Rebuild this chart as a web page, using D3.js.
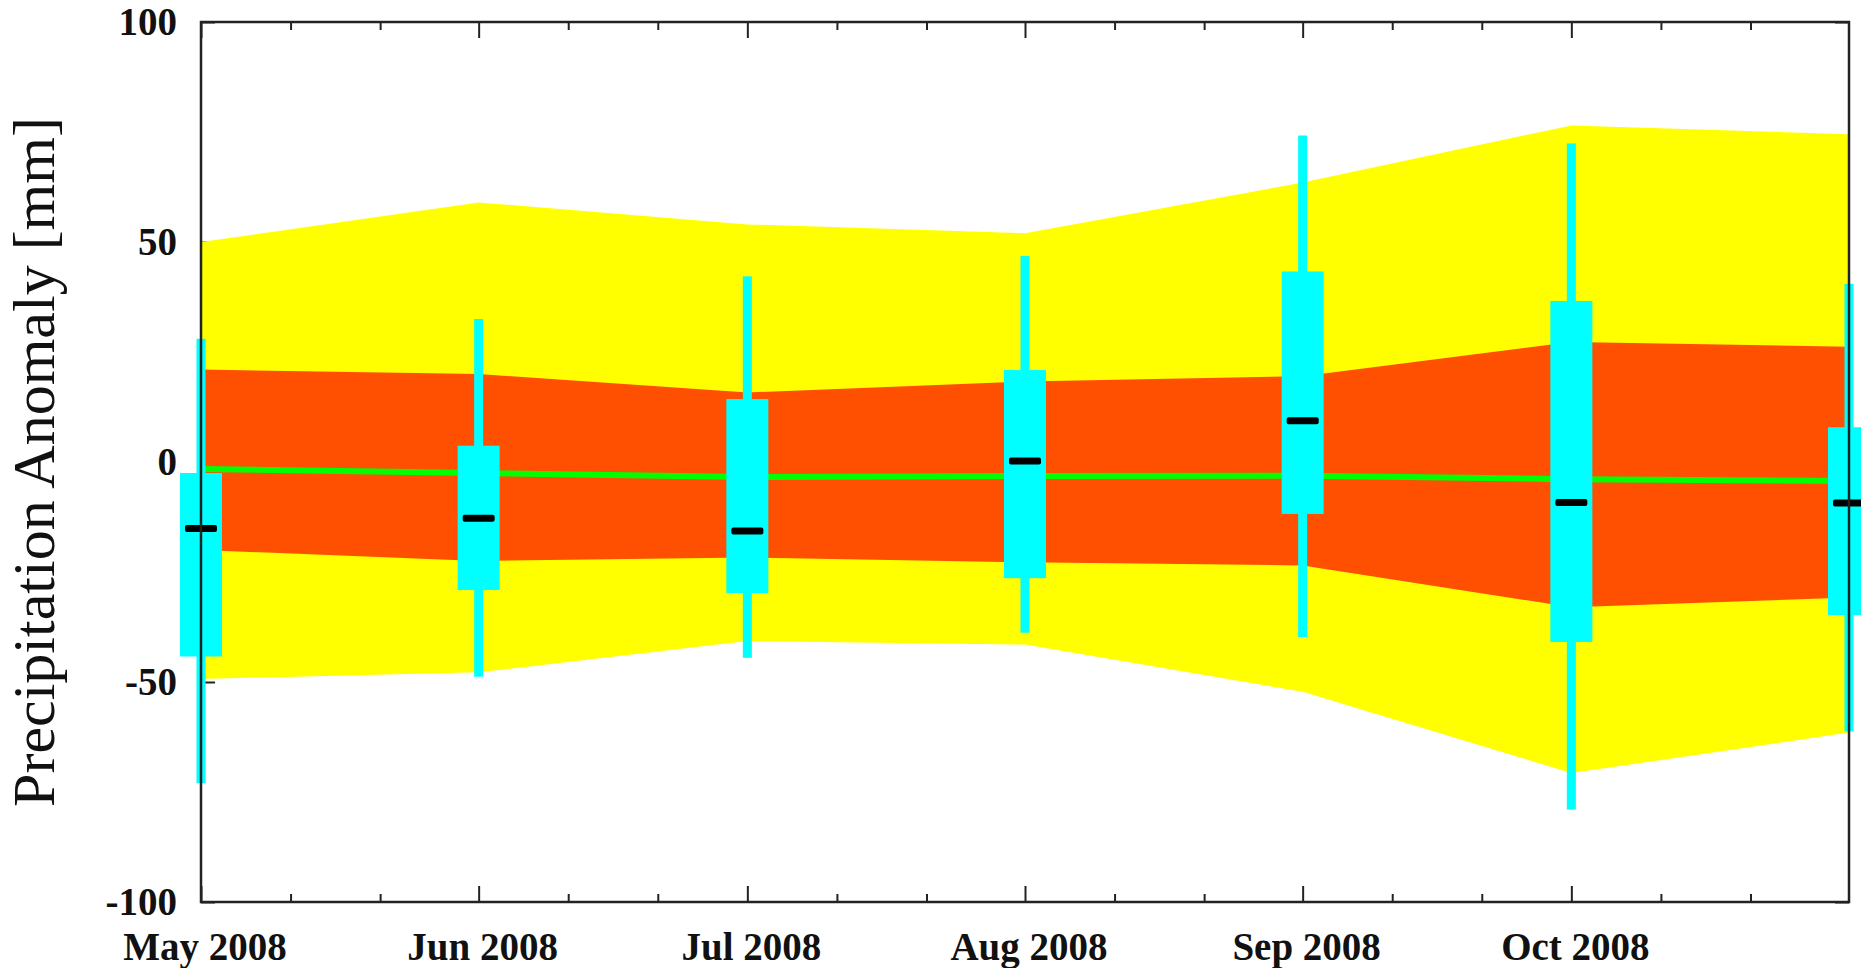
<!DOCTYPE html>
<html>
<head>
<meta charset="utf-8">
<script src="https://cdn.jsdelivr.net/npm/d3@7"></script>
<style>
  html, body { margin: 0; padding: 0; background: #fff; overflow: hidden; }
  svg { display: block; }
</style>
</head>
<body>
<svg id="chart" width="1861" height="968"></svg>
<script>
// ---- data ----
const dates = ["2008-05-01", "2008-06-01", "2008-07-01", "2008-08-01", "2008-09-01", "2008-10-01", "2008-11-01"];
const tickLabels = ["May 2008", "Jun 2008", "Jul 2008", "Aug 2008", "Sep 2008", "Oct 2008"];
const yTickValues = [-100, -50, 0, 50, 100];

const yellowUpper = [50, 59, 54, 52, 63.5, 76.5, 74.5];
const yellowLower = [-49.3, -47.8, -40.7, -41.5, -52.2, -70.7, -61.5];
const orangeUpper = [21, 20, 15.8, 18.3, 19.5, 27.3, 26.2];
const orangeLower = [-20, -22.5, -21.7, -22.8, -23.5, -33, -30.8];
const meanLine    = [-1.6, -2.5, -3.4, -3.2, -3.1, -3.9, -4.3];

const whiskerHigh = [28, 32.5, 42.2, 46.8, 74.2, 72.4, 40.5];
const boxHigh     = [-2.5, 3.7, 14.3, 20.9, 43.3, 36.6, 7.9];
const medianVal   = [-15.1, -12.8, -15.7, 0.2, 9.4, -9.2, -9.3];
const boxLow      = [-44.2, -29.1, -29.8, -26.4, -11.8, -40.9, -34.8];
const whiskerLow  = [-73, -48.8, -44.5, -38.8, -39.8, -79, -61.2];

(function () {
  // ---- layout ----
  const parse = d3.utcParse("%Y-%m-%d");
  const xDates = dates.map(parse);
  const pLeft = 201, pRight = 1849, pTop = 22, pBottom = 902;

  const x = d3.scaleUtc().domain([xDates[0], xDates[xDates.length - 1]]).range([pLeft, pRight]);
  const y = d3.scaleLinear().domain([-100, 100]).range([pBottom, pTop]);

  const svg = d3.select("#chart");
  const font = "'Liberation Serif', 'Times New Roman', serif";

  const rows = xDates.map((d, i) => ({
    d, yu: yellowUpper[i], yl: yellowLower[i], ou: orangeUpper[i], ol: orangeLower[i], m: meanLine[i],
    wh: whiskerHigh[i], bh: boxHigh[i], med: medianVal[i], bl: boxLow[i], wl: whiskerLow[i]
  }));

  // ---- ticks (drawn beneath data) ----
  const majorTicks = xDates.slice(0, 6);
  const minorTicks = d3.utcDay.range(xDates[0], xDates[6]).filter(d => d.getUTCDate() === 11 || d.getUTCDate() === 21);

  const axBottom = d3.axisBottom(x).tickValues(majorTicks).tickSize(-16).tickFormat("");
  const axBottomMinor = d3.axisBottom(x).tickValues(minorTicks).tickSize(-8).tickFormat("");
  const axTop = d3.axisTop(x).tickValues(majorTicks).tickSize(-16).tickFormat("");
  const axTopMinor = d3.axisTop(x).tickValues(minorTicks).tickSize(-8).tickFormat("");
  const axLeft = d3.axisLeft(y).tickValues(yTickValues).tickSize(-14).tickFormat("");
  const axRight = d3.axisRight(y).tickValues(yTickValues).tickSize(-14).tickFormat("");

  function styleAxis(g) {
    g.select(".domain").remove();
    g.selectAll(".tick line").attr("stroke", "#222").attr("stroke-width", 2);
  }
  svg.append("g").attr("transform", `translate(0,${pBottom})`).call(axBottom).call(styleAxis);
  svg.append("g").attr("transform", `translate(0,${pBottom})`).call(axBottomMinor).call(styleAxis);
  svg.append("g").attr("transform", `translate(0,${pTop})`).call(axTop).call(styleAxis);
  svg.append("g").attr("transform", `translate(0,${pTop})`).call(axTopMinor).call(styleAxis);
  svg.append("g").attr("transform", `translate(${pLeft},0)`).call(axLeft).call(styleAxis);
  svg.append("g").attr("transform", `translate(${pRight},0)`).call(axRight).call(styleAxis);

  // ---- bands ----
  const yellowArea = d3.area().x(d => x(d.d)).y0(d => y(d.yl)).y1(d => y(d.yu));
  const orangeArea = d3.area().x(d => x(d.d)).y0(d => y(d.ol)).y1(d => y(d.ou));
  svg.append("path").datum(rows).attr("d", yellowArea).attr("fill", "#ffff00");
  svg.append("path").datum(rows).attr("d", orangeArea).attr("fill", "#ff4f00");

  svg.append("path").datum(rows)
    .attr("d", d3.line().x(d => x(d.d)).y(d => y(d.m)))
    .attr("fill", "none").attr("stroke", "#00ff00").attr("stroke-width", 6);

  // ---- box plots ----
  const boxW = 42, whiskW = 9, medW = 32, medH = 7;
  const g = svg.append("g");
  g.selectAll("rect.whisk").data(rows).join("rect").attr("class", "whisk")
    .attr("x", d => x(d.d) - whiskW / 2).attr("width", whiskW)
    .attr("y", d => y(d.wh)).attr("height", d => y(d.wl) - y(d.wh))
    .attr("fill", "#00ffff");
  g.selectAll("rect.box").data(rows).join("rect").attr("class", "box")
    .attr("x", d => x(d.d) - boxW / 2).attr("width", boxW)
    .attr("y", d => y(d.bh)).attr("height", d => y(d.bl) - y(d.bh))
    .attr("fill", "#00ffff");
  g.selectAll("rect.med").data(rows).join("rect").attr("class", "med")
    .attr("x", d => x(d.d) - medW / 2).attr("width", medW)
    .attr("y", d => y(d.med) - medH / 2).attr("height", medH)
    .attr("rx", 2).attr("fill", "#000");

  // ---- frame on top ----
  svg.append("rect").attr("x", pLeft).attr("y", pTop).attr("width", pRight - pLeft).attr("height", pBottom - pTop)
    .attr("fill", "none").attr("stroke", "#222").attr("stroke-width", 2.5);

  // ---- labels ----
  svg.append("g").selectAll("text").data(majorTicks).join("text")
    .attr("x", d => x(d) + 4).attr("y", 960)
    .attr("text-anchor", "middle")
    .style("font-family", font).style("font-weight", "bold").style("font-size", "39px")
    .attr("fill", "#111")
    .text((d, i) => tickLabels[i]);

  svg.append("g").selectAll("text").data(yTickValues).join("text")
    .attr("x", 177).attr("y", d => y(d)).attr("dy", "0.34em")
    .attr("text-anchor", "end")
    .style("font-family", font).style("font-weight", "bold").style("font-size", "39px")
    .attr("fill", "#111")
    .text(d => d);

  svg.append("text")
    .attr("transform", `translate(54,${(pTop + pBottom) / 2}) rotate(-90)`)
    .attr("text-anchor", "middle")
    .style("font-family", font).style("font-size", "60px")
    .attr("fill", "#111")
    .text("Precipitation Anomaly [mm]");
})();
</script>
</body>
</html>
